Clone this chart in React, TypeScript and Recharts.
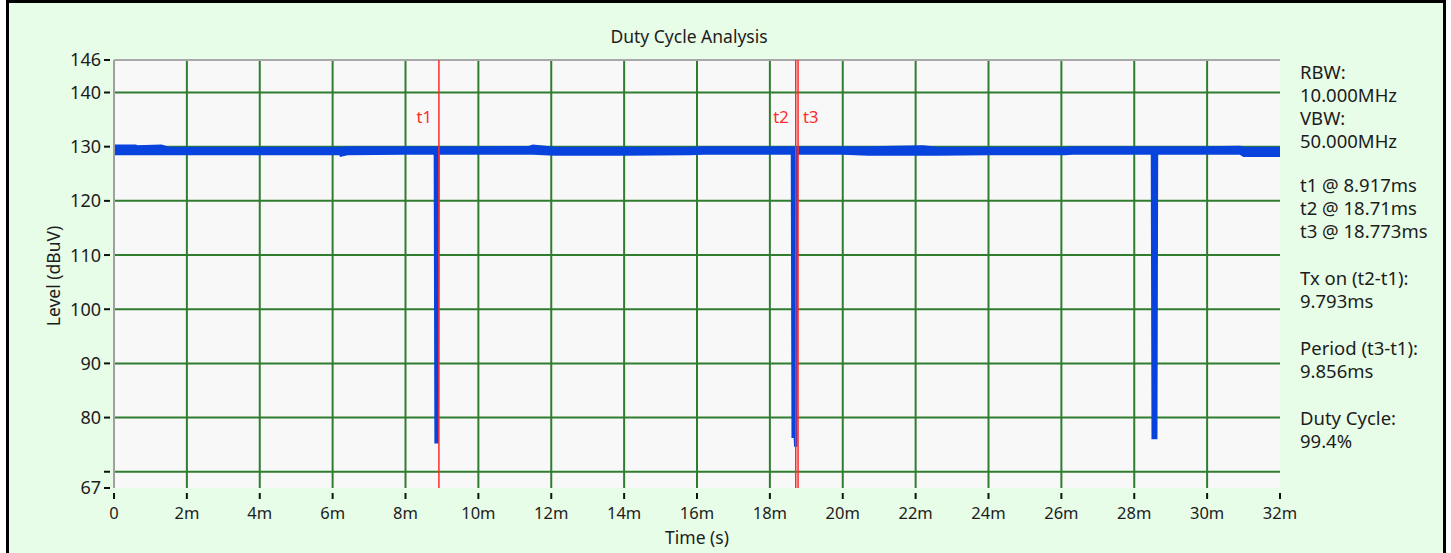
import {
  ComposedChart,
  Area,
  XAxis,
  YAxis,
  CartesianGrid,
  ReferenceLine,
} from "recharts";

// time in ms, level band (min / max) in dBuV
const timeMs = [
  0, 0.6, 0.62, 1.3, 1.5, 3.0, 6.2, 6.22, 6.4, 8.0, 8.8, 8.82, 8.89, 8.91, 10.0,
  11.4, 11.5, 12.1, 14.0, 15.8, 16.2, 18.6, 18.62, 18.68, 18.69, 18.73, 18.75,
  20.0, 20.7, 22.2, 22.6, 24.0, 26.1, 26.3, 28.48, 28.5, 28.61, 28.63, 30.0,
  30.9, 31.0, 32,
];
const levelMax = [
  130.2, 130.2, 130.1, 130.2, 129.8, 129.8, 129.8, 129.8, 129.9, 129.9, 129.9,
  129.9, 129.9, 129.9, 129.9, 130.0, 130.2, 129.8, 129.8, 129.8, 129.9, 129.9,
  129.9, 129.9, 129.9, 129.9, 129.9, 129.9, 129.9, 130.1, 129.8, 129.8, 129.8,
  129.9, 129.9, 129.9, 129.9, 129.9, 129.9, 130.0, 129.8, 129.8,
];
const levelMin = [
  128.6, 128.6, 128.6, 128.6, 128.6, 128.6, 128.6, 128.3, 128.6, 128.7, 128.7,
  75.4, 75.4, 128.7, 128.7, 128.7, 128.7, 128.5, 128.5, 128.6, 128.7, 128.7,
  76.4, 76.4, 74.8, 74.8, 128.7, 128.7, 128.5, 128.5, 128.5, 128.6, 128.6,
  128.7, 128.7, 76.2, 76.2, 128.7, 128.7, 128.7, 128.3, 128.3,
];

const xTicks = [0, 2, 4, 6, 8, 10, 12, 14, 16, 18, 20, 22, 24, 26, 28, 30, 32];
const yTicks = [67, 70, 80, 90, 100, 110, 120, 130, 140, 146];
const yGrid = [70, 80, 90, 100, 110, 120, 130, 140];
const xGrid = [2, 4, 6, 8, 10, 12, 14, 16, 18, 20, 22, 24, 26, 28, 30];

const markerNames = ["t1", "t2", "t3"];
const markerTimes = [8.917, 18.71, 18.773];

const infoLines = [
  "RBW:",
  "10.000MHz",
  "VBW:",
  "50.000MHz",
  "",
  "t1 @ 8.917ms",
  "t2 @ 18.71ms",
  "t3 @ 18.773ms",
  "",
  "Tx on (t2-t1):",
  "9.793ms",
  "",
  "Period (t3-t1):",
  "9.856ms",
  "",
  "Duty Cycle:",
  "99.4%",
];

const FONT = "'Noto Sans', 'Open Sans', sans-serif";
const BLUE = "#0743dc";
const RED = "#ff2b2b";
const GREEN = "#2f7d2f";
const TEXT = "#1c1c1c";

const data = timeMs.map((t, i) => ({ t, band: [levelMin[i], levelMax[i]] }));

function YTick(props: any) {
  const { x, y, payload } = props;
  return (
    <g>
      <line x1={x - 10} x2={x - 4} y1={y} y2={y} stroke="#111" strokeWidth={2} />
      {payload.value !== 70 && (
        <text
          x={x - 13}
          y={y}
          dy="0.36em"
          textAnchor="end"
          fontSize={18}
          fontFamily={FONT}
          fill={TEXT}
        >
          {payload.value}
        </text>
      )}
    </g>
  );
}

function XTick(props: any) {
  const { x, y, payload } = props;
  return (
    <g>
      <line x1={x} x2={x} y1={y + 5} y2={y + 11} stroke="#111" strokeWidth={2} />
      <text
        x={x}
        y={y + 31}
        textAnchor="middle"
        fontSize={16.5}
        fontFamily={FONT}
        fill={TEXT}
      >
        {payload.value === 0 ? "0" : `${payload.value}m`}
      </text>
    </g>
  );
}

function markerLabel(name: string, side: "left" | "right") {
  return (props: any) => {
    const vb = props.viewBox;
    return (
      <text
        x={side === "left" ? vb.x - 7 : vb.x + 5}
        y={vb.y + 63}
        textAnchor={side === "left" ? "end" : "start"}
        fontSize={16.5}
        fontFamily={FONT}
        fill={RED}
      >
        {name}
      </text>
    );
  };
}

export default function App() {
  return (
    <div
      style={{
        position: "absolute",
        left: 0,
        top: 0,
        width: 1451,
        height: 553,
        overflow: "hidden",
        background: "#fff",
        fontFamily: FONT,
      }}
    >
      <div
        style={{
          position: "absolute",
          left: 6,
          top: 0,
          width: 1440,
          height: 570,
          boxSizing: "border-box",
          border: "3px solid #000",
          background: "#e8fde8",
        }}
      />
      <div
        style={{
          position: "absolute",
          left: 100,
          width: 1178,
          top: 24,
          textAlign: "center",
          fontSize: 17.5,
          color: TEXT,
        }}
      >
        Duty Cycle Analysis
      </div>
      <div
        style={{
          position: "absolute",
          left: 114,
          width: 1166,
          top: 525,
          textAlign: "center",
          fontSize: 17.5,
          color: TEXT,
        }}
      >
        Time (s)
      </div>
      <div
        style={{
          position: "absolute",
          left: 53,
          top: 276,
          transform: "translate(-50%, -50%) rotate(-90deg)",
          whiteSpace: "nowrap",
          fontSize: 17.5,
          color: TEXT,
        }}
      >
        Level (dBuV)
      </div>
      <div
        style={{
          position: "absolute",
          left: 1300,
          top: 60,
          fontSize: 18.5,
          lineHeight: "23px",
          color: TEXT,
        }}
      >
        {infoLines.map((s, i) => (
          <div key={i} style={{ height: s ? 23 : i === 4 ? 21 : 24 }}>
            {s}
          </div>
        ))}
      </div>
      <div style={{ position: "absolute", left: 0, top: 0 }}>
        <ComposedChart
          width={1451}
          height={553}
          data={data}
          margin={{ top: 60, right: 171, bottom: 25, left: 54 }}
        >
          <CartesianGrid
            fill="#f8f8f8"
            stroke={GREEN}
            strokeWidth={2}
            horizontalValues={yGrid}
            verticalValues={xGrid}
          />
          <XAxis
            dataKey="t"
            type="number"
            domain={[0, 32]}
            ticks={xTicks}
            interval={0}
            height={40}
            axisLine={false}
            tickLine={false}
            tickSize={0}
            tickMargin={0}
            tick={<XTick />}
          />
          <YAxis
            type="number"
            domain={[67, 146]}
            ticks={yTicks}
            interval={0}
            width={60}
            axisLine={{ stroke: "#a0a0a0", strokeWidth: 2 }}
            tickLine={false}
            tickSize={0}
            tickMargin={0}
            tick={<YTick />}
          />
          <ReferenceLine y={146} stroke="#a8a8a8" strokeWidth={2} />
          <Area
            dataKey="band"
            type="linear"
            stroke={BLUE}
            strokeWidth={2}
            fill={BLUE}
            fillOpacity={1}
            isAnimationActive={false}
          />
          {markerTimes.map((t, i) => (
            <ReferenceLine
              key={markerNames[i]}
              x={t}
              stroke={RED}
              strokeWidth={1.5}
              label={markerLabel(markerNames[i], i === 2 ? "right" : "left")}
            />
          ))}
        </ComposedChart>
      </div>
    </div>
  );
}
